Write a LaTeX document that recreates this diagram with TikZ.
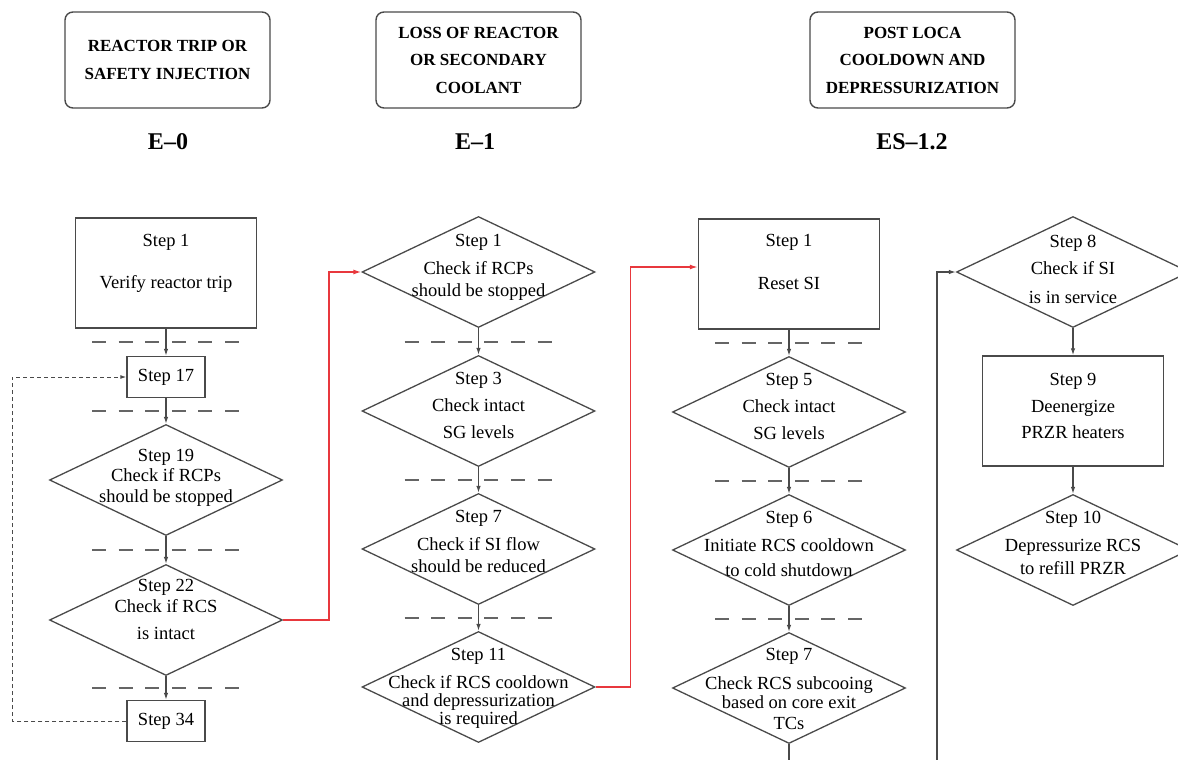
\documentclass[tikz,border=0pt]{standalone}
\usepackage{fontspec}
\setmainfont{Liberation Serif}
\usepackage{tikz}
\usetikzlibrary{arrows.meta, shapes.geometric, calc}

\definecolor{linegray}{HTML}{4A4A4A}
\definecolor{flowred}{HTML}{E8383D}

\begin{document}
\begin{tikzpicture}[x=1pt, y=-1pt,
    headbox/.style={draw=linegray, line width=1.4pt, rounded corners=8pt, minimum width=205pt, minimum height=96pt, align=center, font=\fontsize{17}{27.5}\selectfont\bfseries},
    eoplabel/.style={font=\fontsize{24}{28}\selectfont\bfseries},
    actbox/.style={draw=linegray, line width=1.4pt, minimum width=181pt, minimum height=110pt, inner sep=0pt},
    smallbox/.style={draw=linegray, line width=1.4pt, minimum width=78pt, minimum height=41pt, font=\fontsize{18.5}{22}\selectfont},
    decision/.style={diamond, draw=linegray, line width=1.3pt, minimum width=233pt, minimum height=111pt, inner sep=0pt},
    steptext/.style={anchor=north, yshift=-7pt, align=center, inner sep=0pt, font=\fontsize{18.5}{22}\selectfont},
    sepline/.style={draw=linegray!85, line width=2pt, dash pattern=on 14pt off 12.6pt},
    flow/.style={draw=linegray, line width=1.2pt, -{Latex[length=7pt,width=4.5pt]}},
    goback/.style={draw=linegray, line width=1pt, dash pattern=on 4pt off 3pt, -{Latex[length=6pt,width=4pt]}},
    redflow/.style={draw=flowred, line width=1.4pt, -{Latex[length=8pt,width=5pt]}}
]
\useasboundingbox (0,0) rectangle (1178,760);
\clip (0,0) rectangle (1178,760);

% procedure headers
\node[headbox] (h0) at (167.5,60) {REACTOR TRIP OR\\SAFETY INJECTION};
\node[headbox] (h1) at (478.5,60) {LOSS OF REACTOR\\OR SECONDARY\\COOLANT};
\node[headbox] (h2) at (912.5,60) {POST LOCA\\COOLDOWN AND\\DEPRESSURIZATION};
\node[eoplabel] (l0) at (168,142) {E--0};
\node[eoplabel] (l1) at (475,142) {E--1};
\node[eoplabel] (l2) at (912,142) {ES--1.2};

% E-0
\node[actbox] (e0s1) at (166,273) {};
\node[steptext] (e0s1t) at (166,227) {Step 1\\[20pt]Verify reactor trip};
\node[smallbox] (e0s17) at (166,377) {Step 17};
\node[decision] (e0s19) at (166,480) {};
\node[steptext] (e0s19t) at (166,442) {Step 19\\[-1.5pt]Check if RCPs\\[-1pt]should be stopped};
\node[decision] (e0s22) at (166,620) {};
\node[steptext] (e0s22t) at (166,572) {Step 22\\[-1pt]Check if RCS\\[5pt]is intact};
\node[smallbox] (e0s34) at (166,721) {Step 34};

% E-1
\node[decision] (e1s1) at (478.5,272) {};
\node[steptext] (e1s1t) at (478.5,227) {Step 1\\[6pt]Check if RCPs\\should be stopped};
\node[decision] (e1s3) at (478.5,411) {};
\node[steptext] (e1s3t) at (478.5,365) {Step 3\\[5pt]Check intact\\[5pt]SG levels};
\node[decision] (e1s7) at (478.5,549) {};
\node[steptext] (e1s7t) at (478.5,503) {Step 7\\[6pt]Check if SI flow\\should be reduced};
\node[decision] (e1s11) at (478.5,687) {};
\node[steptext] (e1s11t) at (478.5,641) {Step 11\\[6pt]Check if RCS cooldown\\[-4pt]and depressurization\\[-4pt]is required};

% ES-1.2
\node[actbox] (e2s1) at (789,274) {};
\node[steptext] (e2s1t) at (789,227) {Step 1\\[21pt]Reset SI};
\node[decision] (e2s5) at (789,412) {};
\node[steptext] (e2s5t) at (789,366) {Step 5\\[5pt]Check intact\\[5pt]SG levels};
\node[decision] (e2s6) at (789,550) {};
\node[steptext] (e2s6t) at (789,504) {Step 6\\[6pt]Initiate RCS cooldown\\[3pt]to cold shutdown};
\node[decision] (e2s7) at (789,688) {};
\node[steptext] (e2s7t) at (789,641) {Step 7\\[7pt]Check RCS subcooing\\[-3pt]based on core exit\\[-1pt]TCs};

\node[decision] (e2s8) at (1073,272) {};
\node[steptext] (e2s8t) at (1073,228) {Step 8\\[5pt]Check if SI\\[7pt]is in service};
\node[actbox] (e2s9) at (1073,411) {};
\node[steptext] (e2s9t) at (1073,366) {Step 9\\[5pt]Deenergize\\[4pt]PRZR heaters};
\node[decision] (e2s10) at (1073,550) {};
\node[steptext] (e2s10t) at (1073,504) {Step 10\\[6pt]Depressurize RCS\\[1pt]to refill PRZR};

% step to step, with skipped steps marked
\foreach \a/\b in {e0s1/e0s17, e0s17/e0s19, e0s19/e0s22, e0s22/e0s34,
                   e1s1/e1s3, e1s3/e1s7, e1s7/e1s11,
                   e2s1/e2s5, e2s5/e2s6, e2s6/e2s7}{
    \draw[flow] (\a.south) -- (\b.north);
    \draw[sepline] ($(\a.south)!.5!(\b.north)$) ++(-74,0) -- ++(148,0);
}
\draw[flow] (e2s8.south) -- (e2s9.north);
\draw[flow] (e2s9.south) -- (e2s10.north);

% transitions
\draw[goback] (e0s34.west) -- ++(-114,0) |- (e0s17.west);
\draw[redflow] (e0s22.east) -- ++(46,0) |- (e1s1.west);
\draw[redflow] (e1s11.east) -- ++(35,0) |- ([yshift=7pt]e2s1.west);
\coordinate (loopend) at (937,800);
\draw[flow] (e2s7.south) |- (loopend) |- (e2s8.west);
\end{tikzpicture}
\end{document}
